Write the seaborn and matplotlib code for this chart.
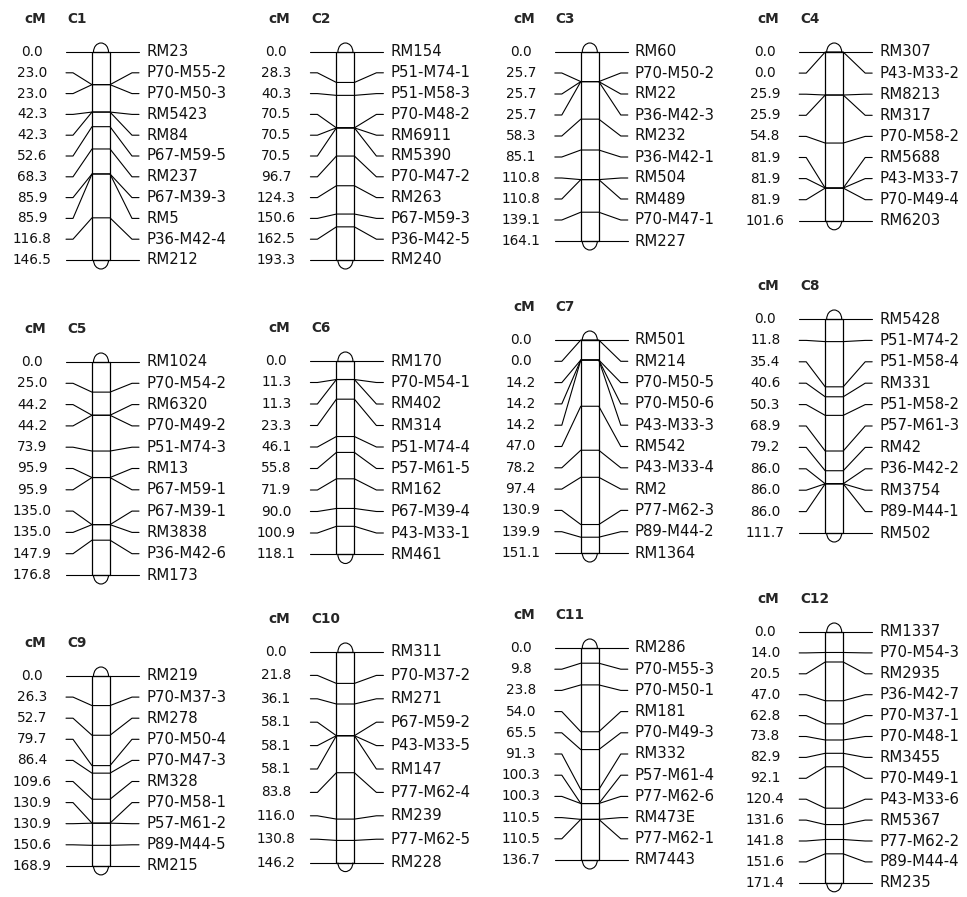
import numpy as np
import pandas as pd
import matplotlib
matplotlib.use("Agg")
import matplotlib.pyplot as plt
import seaborn as sns
from matplotlib.patches import Rectangle, Arc

# ---------------- data ----------------
chrom_names = ["C1", "C2", "C3", "C4", "C5", "C6", "C7", "C8", "C9", "C10", "C11", "C12"]

c1_markers = ["RM23", "P70-M55-2", "P70-M50-3", "RM5423", "RM84", "P67-M59-5", "RM237", "P67-M39-3", "RM5", "P36-M42-4", "RM212"]
c1_cm = [0.0, 23.0, 23.0, 42.3, 42.3, 52.6, 68.3, 85.9, 85.9, 116.8, 146.5]

c2_markers = ["RM154", "P51-M74-1", "P51-M58-3", "P70-M48-2", "RM6911", "RM5390", "P70-M47-2", "RM263", "P67-M59-3", "P36-M42-5", "RM240"]
c2_cm = [0.0, 28.3, 40.3, 70.5, 70.5, 70.5, 96.7, 124.3, 150.6, 162.5, 193.3]

c3_markers = ["RM60", "P70-M50-2", "RM22", "P36-M42-3", "RM232", "P36-M42-1", "RM504", "RM489", "P70-M47-1", "RM227"]
c3_cm = [0.0, 25.7, 25.7, 25.7, 58.3, 85.1, 110.8, 110.8, 139.1, 164.1]

c4_markers = ["RM307", "P43-M33-2", "RM8213", "RM317", "P70-M58-2", "RM5688", "P43-M33-7", "P70-M49-4", "RM6203"]
c4_cm = [0.0, 0.0, 25.9, 25.9, 54.8, 81.9, 81.9, 81.9, 101.6]

c5_markers = ["RM1024", "P70-M54-2", "RM6320", "P70-M49-2", "P51-M74-3", "RM13", "P67-M59-1", "P67-M39-1", "RM3838", "P36-M42-6", "RM173"]
c5_cm = [0.0, 25.0, 44.2, 44.2, 73.9, 95.9, 95.9, 135.0, 135.0, 147.9, 176.8]

c6_markers = ["RM170", "P70-M54-1", "RM402", "RM314", "P51-M74-4", "P57-M61-5", "RM162", "P67-M39-4", "P43-M33-1", "RM461"]
c6_cm = [0.0, 11.3, 11.3, 23.3, 46.1, 55.8, 71.9, 90.0, 100.9, 118.1]

c7_markers = ["RM501", "RM214", "P70-M50-5", "P70-M50-6", "P43-M33-3", "RM542", "P43-M33-4", "RM2", "P77-M62-3", "P89-M44-2", "RM1364"]
c7_cm = [0.0, 0.0, 14.2, 14.2, 14.2, 47.0, 78.2, 97.4, 130.9, 139.9, 151.1]

c8_markers = ["RM5428", "P51-M74-2", "P51-M58-4", "RM331", "P51-M58-2", "P57-M61-3", "RM42", "P36-M42-2", "RM3754", "P89-M44-1", "RM502"]
c8_cm = [0.0, 11.8, 35.4, 40.6, 50.3, 68.9, 79.2, 86.0, 86.0, 86.0, 111.7]

c9_markers = ["RM219", "P70-M37-3", "RM278", "P70-M50-4", "P70-M47-3", "RM328", "P70-M58-1", "P57-M61-2", "P89-M44-5", "RM215"]
c9_cm = [0.0, 26.3, 52.7, 79.7, 86.4, 109.6, 130.9, 130.9, 150.6, 168.9]

c10_markers = ["RM311", "P70-M37-2", "RM271", "P67-M59-2", "P43-M33-5", "RM147", "P77-M62-4", "RM239", "P77-M62-5", "RM228"]
c10_cm = [0.0, 21.8, 36.1, 58.1, 58.1, 58.1, 83.8, 116.0, 130.8, 146.2]

c11_markers = ["RM286", "P70-M55-3", "P70-M50-1", "RM181", "P70-M49-3", "RM332", "P57-M61-4", "P77-M62-6", "RM473E", "P77-M62-1", "RM7443"]
c11_cm = [0.0, 9.8, 23.8, 54.0, 65.5, 91.3, 100.3, 100.3, 110.5, 110.5, 136.7]

c12_markers = ["RM1337", "P70-M54-3", "RM2935", "P36-M42-7", "P70-M37-1", "P70-M48-1", "RM3455", "P70-M49-1", "P43-M33-6", "RM5367", "P77-M62-2", "P89-M44-4", "RM235"]
c12_cm = [0.0, 14.0, 20.5, 47.0, 62.8, 73.8, 82.9, 92.1, 120.4, 131.6, 141.8, 151.6, 171.4]

all_markers = [c1_markers, c2_markers, c3_markers, c4_markers, c5_markers, c6_markers,
               c7_markers, c8_markers, c9_markers, c10_markers, c11_markers, c12_markers]
all_cm = [c1_cm, c2_cm, c3_cm, c4_cm, c5_cm, c6_cm, c7_cm, c8_cm, c9_cm, c10_cm, c11_cm, c12_cm]

# ---------------- layout ----------------
W, H = 967, 897
COL_X0 = 66.0          # start of left connector line, column 1
COL_STEP = 244.4       # horizontal distance between columns
TOPS = [52, 52, 52, 52, 362, 361, 340, 319, 676, 652, 648, 632]
GAPS = [20.8, 20.8, 21.0, 21.1, 21.3, 21.5, 21.3, 21.4, 21.1, 23.4, 21.2, 20.9]
BAR_OFF = 26           # from line start to bar left edge
BAR_W = 18
FS_NUM = 9.8
FS_LAB = 10.7

sns.set_theme(style="white")
plt.rcParams['font.family'] = ['DejaVu Sans']

fig = plt.figure(figsize=(W / 100, H / 100), dpi=100)
ax = fig.add_axes([0, 0, 1, 1])

rows = []
uid = 0
geo = []
for k, (name, marks, cms) in enumerate(zip(chrom_names, all_markers, all_cm)):
    col = k % 4
    ls = COL_X0 + col * COL_STEP
    top = TOPS[k]
    g = GAPS[k]
    n = len(marks)
    length = (n - 1) * g
    bl = ls + BAR_OFF
    br = bl + BAR_W
    cmax = max(cms)
    geo.append((name, ls, top, length, bl, br))
    for i, (m, c) in enumerate(zip(marks, cms)):
        ly = top + i * g
        my = top + c / cmax * length
        pts = [(ls, ly), (ls + 7, ly), (bl, my), (br, my), (br + 22, ly), (br + 29, ly)]
        for j, (x, y) in enumerate(pts):
            rows.append({"x": x, "y": y, "uid": uid, "order": j})
        uid += 1
        ax.text(ls - 34, ly, f"{c:.1f}", ha="center", va="center", fontsize=FS_NUM, color="#111111")
        ax.text(br + 36, ly, m, ha="left", va="center", fontsize=FS_LAB, color="#111111")

df = pd.DataFrame(rows)
sns.lineplot(data=df, x="x", y="y", units="uid", estimator=None, sort=False,
             color="black", linewidth=0.8, ax=ax, legend=False)

for name, ls, top, length, bl, br in geo:
    ax.add_patch(Rectangle((bl, top), BAR_W, length, fill=False, edgecolor="black", linewidth=0.9))
    cx = (bl + br) / 2
    ax.add_patch(Arc((cx, top), 15, 18, theta1=180, theta2=360, edgecolor="black", linewidth=0.8))
    ax.add_patch(Arc((cx, top + length), 15, 18, theta1=0, theta2=180, edgecolor="black", linewidth=0.8))
    ax.text(ls - 31, top - 33, "cM", ha="center", va="center", fontsize=FS_NUM, fontweight="bold")
    ax.text(ls + 1, top - 33, name, ha="left", va="center", fontsize=FS_NUM, fontweight="bold")

ax.set_xlim(0, W)
ax.set_ylim(H, 0)
ax.axis("off")
fig.savefig("out.png", dpi=100, facecolor="white")
